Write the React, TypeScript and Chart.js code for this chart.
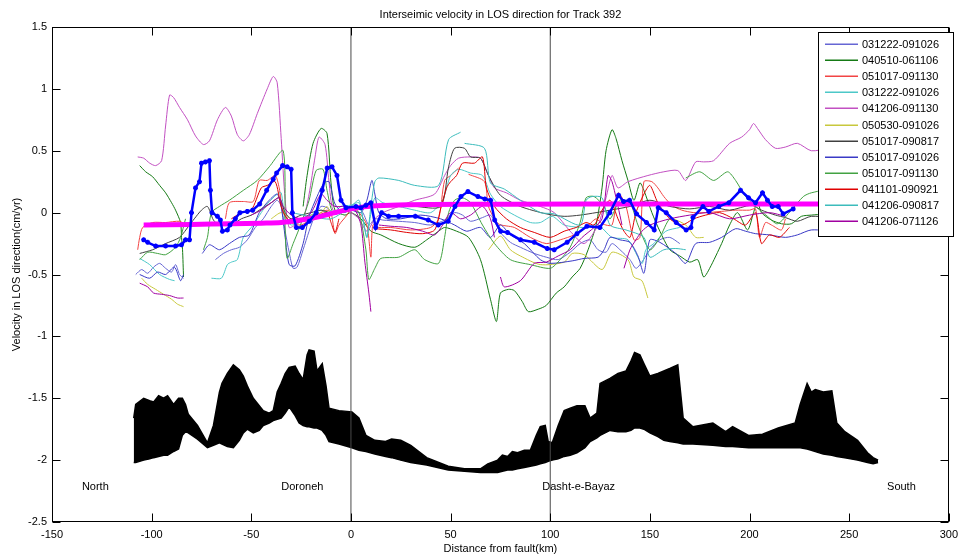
import React, { useEffect, useRef } from 'react';
import { Chart, registerables } from 'chart.js';

Chart.register(...registerables);

type P = [number, number | null];

const titleText = 'Interseimic velocity in LOS direction for Track 392';
const xTitle = 'Distance from fault(km)';
const yTitle = 'Velocity in LOS direction(cm/yr)';

const xMin = -150, xMax = 300, xStep = 50;
const yMin = -2.5, yMax = 1.5, yStep = 0.5;

const annotationLabels = ['North', 'Doroneh', 'Dasht-e-Bayaz', 'South'];
const annotationX = [-135, -35, 96, 269];
const annotationY = [-2.22, -2.22, -2.22, -2.22];

const faultLineX = [0, 100];

const legendLabels = [
  '031222-091026', '040510-061106', '051017-091130', '031222-091026',
  '041206-091130', '050530-091026', '051017-090817', '051017-091026',
  '051017-091130', '041101-090921', '041206-090817', '041206-071126',
];
const seriesColors = [
  '#6666d4', '#157a15', '#f24444', '#4cc8c8', '#c250c2', '#c8c83c',
  '#404040', '#3a3ac6', '#42a242', '#e00000', '#3cbcbc', '#a000a0',
];

const s01: P[] = [
  [-108, -0.5], [-105, -0.46], [-102, -0.49], [-99, -0.44], [-96, -0.41], [-93, -0.45], [-90, -0.48], [-88, -0.42], [-86, -0.5], [-84, -0.53], [-84, null],
  [-68, -0.38], [-64, -0.33], [-60, -0.3], [-56, -0.28], [-52, -0.22], [-48, -0.12], [-44, -0.05], [-40, 0.05], [-37, 0.1], [-35, 0.05], [-33, -0.15], [-31, -0.32], [-29, -0.45], [-27, -0.44], [-24, -0.3], [-21, -0.15], [-18, -0.02], [-15, 0.05], [-12, 0.04], [-9, 0.0], [-5, 0.02], [0, 0.04], [3, 0.05], [6, 0.0], [9, -0.1], [12, -0.05], [16, -0.06], [24, -0.07], [32, -0.08], [40, -0.1], [47, -0.06], [52, 0.0], [56, -0.02], [60, -0.07], [66, -0.04], [70, -0.02], [75, -0.16], [80, -0.24], [85, -0.28], [92, -0.33], [98, -0.36], [104, -0.38], [110, -0.32], [115, -0.25], [120, -0.22], [124, -0.3], [128, -0.32], [131, -0.25], [135, -0.3], [140, -0.38], [143, -0.45], [146, -0.4], [150, -0.3], [155, -0.22], [160, -0.2], [165, -0.25],
];
const s02: P[] = [
  [-106, 0.38], [-103, 0.33], [-99.5, 0.29], [-96, 0.22], [-93, 0.16], [-90, 0.08], [-88, 0.02], [-85.5, -0.08], [-85, -0.2], [-84.5, -0.3], [-84, -0.52], [-84, null],
  [-24, 0.05], [-22, 0.3], [-19, 0.56], [-15, 0.68], [-12, 0.64], [-10, 0.24], [-8, 0.02], [-3, -0.02], [0, 0.0], [5, -0.05], [10, -0.15], [15, -0.18], [24, -0.25], [32, -0.28], [38, -0.22], [44, -0.15], [47, -0.12], [53, -0.15], [59, -0.2], [65, -0.38], [70, -0.7], [73, -0.88], [75, -0.65], [79, -0.62], [82, -0.63], [86, -0.72], [89, -0.8], [94, -0.78], [98, -0.75], [103, -0.65], [107, -0.6], [111, -0.52], [115, -0.45], [119, -0.3], [123, -0.1], [126, 0.2], [128, 0.5], [131, 0.67], [133, 0.6], [136, 0.42], [139, 0.26], [142, 0.1], [145, 0.24], [147, 0.18], [151, 0.0], [155, -0.15], [160, -0.3], [165, -0.35], [170, -0.4], [174, -0.38], [177, -0.52], [180, -0.45], [186, -0.25], [190, -0.1], [194, 0.0], [199, -0.14], [202, 0.0], [204, 0.09], [206, 0.0], [211, -0.06], [216, -0.09], [221, -0.09], [226, -0.03], [231, -0.02], [245, 0.0], [270, 0.05], [300, 0.1],
];
const s03: P[] = [
  [-107, -0.3], [-106, -0.2], [-104.5, -0.12], [-99.5, -0.08], [-93, -0.08], [-86, -0.07], [-83, -0.1], [-83, null],
  [-63, -0.05], [-61, 0.08], [-54, 0.09], [-49, 0.09], [-46, 0.26], [-42, 0.26], [-38, 0.3], [-36, 0.2], [-34, 0.0], [-30, -0.08], [-25, -0.1], [-20, -0.05], [-15, 0.0], [-12, 0.02], [-10, 0.0], [-8, -0.17], [-6, -0.1], [-2, -0.02], [0, 0.03], [4, 0.0], [8, -0.1], [10, -0.36], [11, -0.1], [14, -0.12], [20, -0.12], [30, -0.14], [40, -0.12], [44, -0.05], [47, 0.26], [50, 0.3], [54, 0.36], [54, null],
  [59, 0.31], [67, 0.25], [69, 0.05], [74, -0.09], [82, -0.12], [90, -0.2], [98, -0.25], [105, -0.22], [112, -0.18], [118, -0.12], [123, -0.05], [126, -0.09], [131, -0.1], [134, 0.16], [138, 0.05], [142, -0.22], [145, -0.2], [147, 0.25], [151, 0.25], [154, 0.2], [157, 0.13], [161, 0.06], [166, 0.02], [172, 0.0], [178, 0.0], [186, 0.01], [193, 0.02], [200, 0.02], [203, 0.03], [205, -0.2], [208, -0.08], [211, -0.1], [216, -0.14], [218, -0.05],
];
const s04: P[] = [
  [-106, -0.37], [-101, -0.42], [-96, -0.5], [-91, -0.54], [-88.5, -0.55], [-88.5, null],
  [-70, -0.53], [-65, -0.53], [-62, -0.42], [-60, -0.4], [-57, -0.38], [-54, -0.2], [-49, -0.1], [-45, 0.0], [-42, 0.07], [-37, 0.15], [-35, 0.16], [-33, -0.05], [-30, -0.1], [-26, -0.08], [-20, -0.02], [-15, 0.02], [-10, -0.02], [-5, 0.05], [0, 0.06], [4, 0.08], [6, -0.05], [8, -0.2], [9, -0.1], [12, 0.12], [16, 0.08], [24, 0.05], [32, 0.02], [40, 0.0], [46, 0.1], [50, 0.3], [54, 0.35], [60, 0.32], [66, 0.3], [70, 0.15], [75, 0.05], [82, -0.02], [90, -0.08], [95, -0.08], [101, -0.03], [107, -0.1], [117, -0.12], [124, -0.1], [131, -0.2], [139, -0.22], [146, -0.41], [148, -0.3], [152, -0.25], [158, -0.15], [165, -0.12],
];
const s05: P[] = [
  [-107, 0.45], [-104, 0.44], [-101, 0.4], [-98, 0.38], [-95, 0.42], [-93, 0.7], [-91, 0.95], [-89, 0.93], [-86, 0.85], [-82, 0.75], [-78, 0.62], [-74, 0.55], [-71, 0.58], [-67, 0.75], [-63, 0.85], [-60, 0.78], [-57, 0.63], [-54, 0.58], [-51, 0.63], [-47, 0.8], [-42, 1.0], [-39, 1.1], [-37, 1.05], [-35, 0.6], [-33, 0.1], [-31, -0.12], [-28, -0.1], [-24, -0.05], [-21, 0.15], [-18, 0.45], [-16, 0.61], [-13, 0.55], [-11, 0.25], [-9, 0.02], [-5, 0.02], [0, 0.0], [4, -0.05], [8, -0.15], [12, -0.05], [16, 0.0], [24, 0.05], [32, 0.1], [42, 0.15], [47, 0.3], [50, 0.38], [54, 0.44], [60, 0.45], [65, 0.44], [69, 0.3], [72, 0.2], [78, 0.16], [85, 0.1], [95, 0.05], [102, 0.0], [110, -0.15], [117, -0.25], [124, -0.1], [128, 0.12], [131, 0.3], [134, 0.2], [139, 0.25], [149, 0.3], [157, 0.33], [164, 0.34], [168, 0.26], [173, 0.41], [177, 0.41], [182, 0.42], [190, 0.56], [196, 0.61], [200, 0.67], [202, 0.72], [204, 0.68], [208, 0.59], [213, 0.52], [218, 0.53], [224, 0.56], [231, 0.5], [240, 0.52], [255, 0.55], [265, 0.58], [280, 0.5], [300, 0.5],
];
const s06: P[] = [
  [-105, -0.53], [-102, -0.58], [-98, -0.62], [-94, -0.66], [-90, -0.7], [-87, -0.74], [-84, -0.76], [-84, null],
  [-40, -0.05], [-35, 0.0], [-30, -0.05], [-25, -0.05], [-20, -0.02], [-15, 0.0], [-12, 0.05], [-10, -0.02], [-10, null],
  [69, -0.3], [75, -0.19], [80, -0.3], [85, -0.35], [95, -0.42], [107, -0.4], [111, -0.33], [117, -0.34], [126, -0.46], [131, -0.32], [139, -0.38], [142, -0.52], [146, -0.55], [149, -0.69], [149, null],
  [162, -0.05], [168, -0.1], [173, -0.2], [177, -0.2],
];
const s07: P[] = [
  [-106, -0.33], [-99.5, -0.3], [-93, -0.25], [-86, -0.2], [-81, -0.1], [-78.6, -0.05], [-75, 0.02], [-72, 0.05], [-69, -0.06], [-66, -0.1], [-60, -0.1], [-55, -0.05], [-50, -0.02], [-45, 0.03], [-40, 0.08], [-36, 0.12], [-33, 0.0], [-30, -0.05], [-25, -0.02], [-20, 0.0], [-15, 0.02], [-10, 0.0], [0, 0.03], [10, 0.04], [15, 0.05], [32, 0.05], [45, 0.05], [49, 0.37], [52, 0.52], [57, 0.52], [60, 0.45], [65, 0.44], [69, 0.3], [75, 0.14], [85, 0.05], [98, -0.01], [107, -0.03], [115, -0.02], [123, 0.0], [130, 0.02], [140, 0.05], [150, 0.1], [160, 0.05], [170, 0.03], [180, 0.05], [190, 0.02], [201, 0.06], [206, 0.02], [213, -0.02], [218, -0.04], [224, -0.07], [231, -0.03], [250, -0.05], [270, -0.08], [300, -0.05],
];
const s08: P[] = [
  [-106, -0.5], [-101, -0.53], [-97, -0.48], [-93, -0.5], [-88.6, -0.44], [-85.5, -0.55], [-84, -0.5], [-84, null],
  [-74.6, -0.33], [-71, -0.26], [-66, -0.3], [-61, -0.25], [-56, -0.2], [-51, -0.18], [-46, 0.0], [-41, 0.1], [-37, 0.15], [-35, 0.05], [-33, -0.2], [-31, -0.42], [-28, -0.43], [-24, -0.25], [-21, -0.03], [-17, 0.13], [-13.5, 0.24], [-11, 0.25], [-8, 0.07], [-4, 0.0], [0, 0.02], [5, 0.0], [8, 0.1], [10.5, 0.26], [12, 0.15], [14, 0.0], [18, -0.05], [25, -0.05], [35, -0.02], [45, -0.05], [52, -0.1], [58, -0.15], [65, -0.12], [70, -0.2], [75, -0.1], [80, -0.18], [87, -0.25], [95, -0.38], [100, -0.41], [111, -0.39], [117, -0.37], [124, -0.36], [127, -0.3], [130, -0.2], [135, -0.22], [140, -0.24], [144, -0.35], [147, -0.49], [150, -0.22], [155, -0.24], [163, -0.33], [168, -0.41], [173, -0.25], [180, -0.24], [186, -0.2], [193, -0.13], [198, -0.15], [203, -0.17], [210, -0.18], [218, -0.2], [224, -0.18], [231, -0.14], [245, -0.15], [260, -0.13], [280, -0.1], [300, -0.07],
];
const s09: P[] = [
  [-106, -0.38], [-102, -0.32], [-97, -0.33], [-93, -0.34], [-88, -0.28], [-85.5, -0.2], [-83, -0.05], [-83, null],
  [-74, -0.3], [-72, -0.2], [-70, 0.0], [-66, 0.05], [-61, 0.1], [-54, 0.18], [-47, 0.26], [-41, 0.37], [-34, 0.5], [-33, -0.14], [-32, -0.37], [-29, -0.25], [-26, -0.13], [-21, 0.1], [-17.5, 0.34], [-14, 0.35], [-12, 0.18], [-9, 0.0], [-4, 0.02], [0, 0.05], [4, 0.0], [7.5, -0.3], [9, -0.54], [12, -0.45], [15, -0.37], [24, -0.36], [32, -0.3], [37, -0.38], [44, -0.41], [47, -0.2], [49, 0.0], [52, 0.1], [56, 0.12], [60, 0.08], [66, -0.1], [72, -0.25], [80, -0.38], [90, -0.42], [100, -0.45], [105, -0.38], [110, -0.28], [115, -0.08], [118, 0.12], [122, 0.13], [127, 0.05], [130, -0.05], [135, 0.1], [140, 0.08], [144, -0.1], [150, -0.3], [155, -0.2], [160, -0.05], [164, -0.1], [164, null],
  [168, 0.28], [175, 0.33], [182, 0.26], [189, 0.33], [193, 0.26], [198, 0.13], [203, 0.05], [209, -0.03], [214, -0.09], [221, 0.02], [227, 0.13], [231, 0.16], [245, 0.2], [260, 0.15], [280, 0.18], [300, 0.15],
];
const s10: P[] = [
  [-60, -0.05], [-55, 0.0], [-50, 0.02], [-45, 0.2], [-42, 0.22], [-38, 0.25], [-35, 0.05], [-32, -0.05], [-28, -0.08], [-22, -0.06], [-16, -0.02], [-12, 0.0], [-10, -0.08], [-8, -0.16], [-6, -0.05], [-6, null],
  [12, -0.13], [20, -0.14], [28, -0.16], [36, -0.17], [42, -0.14], [45, 0.03], [48, 0.2], [50, 0.25], [53, 0.3], [56, 0.4], [62, 0.4], [66, 0.45], [68, 0.2], [72, 0.05], [78, -0.05], [85, -0.12], [92, -0.16], [100, -0.2], [107, -0.15], [113, -0.12], [118, -0.08], [122, -0.1], [126, 0.02], [130, 0.1], [134, -0.05], [137, -0.15], [140, -0.2], [143, 0.0], [147, 0.15], [150, 0.22], [154, 0.08], [160, -0.05], [166, -0.1], [172, -0.05], [178, -0.02], [185, 0.0], [192, -0.05], [198, -0.1], [203, 0.0], [206, -0.25], [210, -0.18], [215, -0.2], [220, -0.12],
];
const s11: P[] = [
  [-30, 0.0], [-20, -0.03], [-10, -0.05], [0, 0.05], [4, 0.1], [6, -0.05], [8, -0.2], [10, 0.05], [12, 0.25], [14, 0.28], [24, 0.26], [32, 0.22], [44, 0.22], [49, 0.59], [55, 0.65], [55, null],
  [57, 0.56], [67, 0.52], [70, 0.24], [77, 0.19], [85, 0.1], [95, 0.0], [102, -0.01], [115, -0.1], [118, 0.1], [121, 0.13], [126, 0.12], [130, -0.1], [138, -0.14], [147, -0.2], [150, -0.36], [157, -0.3], [163, -0.29], [168, -0.3],
];
const s12: P[] = [
  [-106, -0.57], [-102, -0.6], [-99, -0.65], [-95, -0.66], [-91, -0.67], [-87, -0.69], [-84, -0.69], [-84, null],
  [-50, -0.02], [-45, 0.02], [-40, 0.08], [-36, 0.12], [-34, 0.05], [-30, -0.02], [-25, -0.05], [-20, 0.0], [-15, 0.15], [-12, 0.1], [-8, 0.05], [-3, 0.05], [2, 0.02], [5, -0.1], [7, -0.4], [9, -0.65], [10, -0.8], [10, null],
  [14, -0.1], [20, -0.11], [28, -0.12], [36, -0.15], [42, -0.18], [46, -0.1], [50, 0.0], [55, -0.05], [60, -0.02], [66, 0.05], [70, -0.05], [72, -0.2], [72, null],
  [75, -0.52], [77, -0.6], [85, -0.55], [92, -0.41], [98, -0.4], [104, -0.35], [110, -0.3], [116, -0.2], [122, -0.12], [126, -0.05], [129, 0.3], [131, 0.25], [134, 0.05], [136, -0.1], [136, null],
  [137, -0.45], [140, -0.3], [143, -0.22], [146, -0.15], [150, -0.1], [160, -0.05], [170, -0.02], [180, 0.0], [190, -0.05], [200, -0.02], [210, 0.0], [218, -0.03],
];
const seriesData = [s01, s02, s03, s04, s05, s06, s07, s08, s09, s10, s11, s12];

const meanProfile: P[] = [
  [-104, -0.22], [-102, -0.24], [-98, -0.27], [-93, -0.27], [-88, -0.27], [-85, -0.26], [-83, -0.22], [-81, -0.22], [-80, 0.0], [-78, 0.2], [-76, 0.25], [-75, 0.4], [-73, 0.41], [-71, 0.42], [-70.5, 0.18], [-69.7, 0.0], [-67, -0.03], [-65.5, -0.06], [-64.5, -0.15], [-62, -0.14], [-60.7, -0.1], [-58, -0.05], [-55.7, 0.0], [-52, 0.01], [-49.3, 0.02], [-45.8, 0.07], [-42.3, 0.18], [-39, 0.27], [-37.3, 0.32], [-34.3, 0.38], [-32, 0.37], [-30, 0.35], [-29.4, 0.0], [-27.4, -0.12], [-24.4, -0.12], [-20.9, -0.07], [-17.4, 0.0], [-14.4, 0.18], [-11.9, 0.36], [-9.5, 0.37], [-7, 0.3], [-5, 0.1], [-2.5, 0.04], [2.5, 0.05], [5, 0.04], [7.5, 0.06], [10, 0.08], [12.4, -0.12], [15.4, 0.0], [18.9, -0.03], [23.9, -0.03], [32.3, -0.03], [38.8, -0.06], [43.8, -0.1], [48.8, -0.07], [52.2, 0.05], [55.2, 0.13], [58.7, 0.17], [63.7, 0.13], [67.2, 0.11], [70.1, 0.1], [72.1, -0.06], [75.1, -0.15], [78.6, -0.16], [85.1, -0.22], [92, -0.24], [98.5, -0.29], [102, -0.3], [108.5, -0.24], [113.4, -0.17], [118.4, -0.11], [124.9, -0.12], [129.9, 0.0], [134.3, 0.14], [136.8, 0.09], [139.8, 0.1], [143.3, -0.01], [148.3, -0.08], [152.2, -0.14], [154.2, 0.04], [158.2, 0.0], [163.2, -0.08], [168.2, -0.14], [170.6, -0.12], [171.6, -0.04], [176.6, 0.05], [179.6, 0.01], [184.6, 0.05], [189.6, 0.08], [195.5, 0.18], [199.5, 0.12], [203, 0.08], [206.5, 0.16], [209, 0.1], [211.4, 0.05], [214.4, 0.05], [216.9, -0.01], [221.9, 0.03],
];

const modelCurve: P[] = [
  [-104, -0.1], [-80, -0.095], [-60, -0.09], [-45, -0.085], [-35, -0.08], [-25, -0.06], [-15, -0.03], [-8, 0.0], [0, 0.03], [8, 0.05], [20, 0.06], [40, 0.065], [80, 0.068], [150, 0.07], [230, 0.07], [300, 0.07],
];

const topoX = [
  -109, -108, -104, -101, -99, -96.5, -94, -92, -89, -86.5, -84.6, -83, -81.6, -77, -72, -69, -66, -64.7, -62, -59, -56, -54, -52, -49, -46, -44, -41, -39, -37, -35, -33, -31, -28, -26, -24, -22, -21, -18.5, -17, -14.4, -12.5, -11, -6, 0.5, 4, 7.5, 12, 17.4, 20.4, 25, 30, 38, 48.8, 57, 65, 68.7, 73.6, 76, 78.6, 81, 83.6, 87, 90, 93, 95, 97.5, 99, 101, 104, 107, 110, 113.4, 117.4, 120, 123.4, 125, 130, 134, 138, 140.5, 142.3, 145, 147, 150, 154, 157, 160, 164, 166.7, 171.6, 181.6, 188, 191.5, 199.5, 206.5, 214.4, 222.9, 225.4, 228.9, 231, 233, 237, 241.3, 243.8, 247.8, 254.2, 259.2, 262, 264.5,
];
const topoUpper = [
  -1.66, -1.55, -1.5, -1.52, -1.53, -1.48, -1.5, -1.48, -1.55, -1.5, -1.5, -1.55, -1.63, -1.72, -1.86, -1.72, -1.45, -1.38, -1.3, -1.23, -1.27, -1.32, -1.4, -1.5, -1.56, -1.6, -1.62, -1.6, -1.45, -1.38, -1.3, -1.25, -1.24, -1.3, -1.35, -1.15, -1.11, -1.12, -1.28, -1.22, -1.4, -1.58, -1.6, -1.61, -1.66, -1.8, -1.84, -1.85, -1.83, -1.84, -1.88, -1.98, -2.05, -2.07, -2.07, -2.03, -2.0, -1.96, -1.97, -1.93, -1.94, -1.92, -1.92, -1.8, -1.73, -1.72, -1.85, -1.86, -1.72, -1.6, -1.58, -1.56, -1.56, -1.66, -1.62, -1.38, -1.34, -1.3, -1.28, -1.2, -1.13, -1.15, -1.22, -1.32, -1.3, -1.28, -1.26, -1.23, -1.66, -1.73, -1.7, -1.77, -1.73, -1.8, -1.79, -1.74, -1.7, -1.55, -1.38, -1.45, -1.43, -1.45, -1.44, -1.7, -1.77, -1.84, -1.94, -1.98, -2.0,
];
const topoLower = [
  -2.02, -2.02, -2.0, -1.99, -1.98, -1.97, -1.96, -1.96, -1.93, -1.91, -1.8, -1.77, -1.78, -1.83, -1.9, -1.88, -1.86, -1.87, -1.89, -1.9, -1.84, -1.78, -1.75, -1.78, -1.76, -1.72, -1.7, -1.68, -1.67, -1.66, -1.62, -1.57, -1.64, -1.7, -1.72, -1.73, -1.73, -1.74, -1.74, -1.76, -1.8, -1.85, -1.87, -1.9, -1.92, -1.93, -1.95, -1.97, -1.98, -2.0, -2.02, -2.04, -2.08, -2.09, -2.1, -2.1, -2.1, -2.09, -2.08, -2.08, -2.07, -2.06, -2.05, -2.04, -2.03, -2.02, -2.01, -2.0, -1.99, -1.97, -1.96, -1.94, -1.9, -1.85, -1.82, -1.8, -1.76, -1.77, -1.77, -1.76, -1.74, -1.74, -1.75, -1.78, -1.81, -1.84, -1.85, -1.86, -1.87, -1.87, -1.88, -1.89, -1.89, -1.9, -1.9, -1.9, -1.9, -1.9, -1.91, -1.92, -1.93, -1.95, -1.96, -1.97, -1.98, -2.0, -2.02, -2.03, -2.02,
];

const FONT = '"Liberation Sans", Arial, sans-serif';

const toXY = (pts: P[]) => pts.map(([x, y]) => ({ x, y }));

const matlabPlugin = {
  id: 'matlabDecor',
  afterDraw(chart: any) {
    const { ctx, chartArea: a, scales } = chart;
    const xs = scales.x;
    const ys = scales.y;
    ctx.save();
    ctx.strokeStyle = '#000';
    ctx.lineWidth = 1;
    const L = Math.round(a.left) + 0.5, R = Math.round(a.right) - 0.5;
    const T = Math.round(a.top) + 0.5, B = Math.round(a.bottom) - 0.5;
    ctx.strokeRect(L, T, R - L, B - T);
    const tl = 8;
    ctx.beginPath();
    xs.ticks.forEach((t: any) => {
      const px = Math.round(xs.getPixelForValue(t.value)) + 0.5;
      ctx.moveTo(px, B); ctx.lineTo(px, B - tl);
      ctx.moveTo(px, T); ctx.lineTo(px, T + tl);
    });
    ys.ticks.forEach((t: any) => {
      const py = Math.round(ys.getPixelForValue(t.value)) + 0.5;
      ctx.moveTo(L, py); ctx.lineTo(L + tl, py);
      ctx.moveTo(R, py); ctx.lineTo(R - tl, py);
    });
    ctx.stroke();

    ctx.fillStyle = '#000';
    ctx.font = `11px ${FONT}`;
    ctx.textBaseline = 'middle';
    ctx.textAlign = 'center';
    ctx.fillText(titleText, (a.left + a.right) / 2, 15);
    ctx.fillText(xTitle, (a.left + a.right) / 2, 549);
    ctx.save();
    ctx.translate(17, (a.top + a.bottom) / 2);
    ctx.rotate(-Math.PI / 2);
    ctx.fillText(yTitle, 0, 0);
    ctx.restore();

    ctx.textAlign = 'left';
    annotationLabels.forEach((lab, i) => {
      ctx.fillText(lab, xs.getPixelForValue(annotationX[i]), ys.getPixelForValue(annotationY[i]));
    });

    // legend box
    const lx = 818.5, ly = 32.5, lw = 135, lh = 204;
    ctx.fillStyle = '#fff';
    ctx.fillRect(lx, ly, lw, lh);
    ctx.strokeStyle = '#000';
    ctx.lineWidth = 1;
    ctx.strokeRect(lx, ly, lw, lh);
    for (let i = 0; i < legendLabels.length; i++) {
      const y = Math.round(44 + i * 16.1);
      ctx.fillStyle = seriesColors[i];
      ctx.fillRect(825, y - 0.5, 33, 1.5);
      ctx.fillStyle = '#000';
      ctx.fillText(legendLabels[i], 862, y + 0.5);
    }
    ctx.restore();
  },
};

export default function App() {
  const ref = useRef<HTMLCanvasElement>(null);
  useEffect(() => {
    document.body.style.margin = '0';
    const datasets: any[] = [];
    datasets.push({
      label: 'topoUpper',
      data: topoX.map((x, i) => ({ x, y: topoUpper[i] })),
      borderColor: '#000', borderWidth: 1.5, backgroundColor: '#000',
      fill: '+1', pointRadius: 0, tension: 0,
    });
    datasets.push({
      label: 'topoLower',
      data: topoX.map((x, i) => ({ x, y: topoLower[i] })),
      borderColor: '#000', borderWidth: 1.5, fill: false, pointRadius: 0, tension: 0,
    });
    faultLineX.forEach((fx) => {
      datasets.push({
        label: 'fault',
        data: [{ x: fx, y: yMin }, { x: fx, y: yMax }],
        borderColor: '#4a4a4a', borderWidth: 1, pointRadius: 0, fill: false,
      });
    });
    seriesData.forEach((s, i) => {
      datasets.push({
        label: legendLabels[i],
        data: toXY(s),
        borderColor: seriesColors[i], borderWidth: 1, pointRadius: 0,
        fill: false, tension: 0.25, spanGaps: false,
      });
    });
    datasets.push({
      label: 'model',
      data: toXY(modelCurve),
      borderColor: '#ff00ff', borderWidth: 5, pointRadius: 0, fill: false, tension: 0.3,
    });
    datasets.push({
      label: 'mean',
      data: toXY(meanProfile),
      borderColor: '#0000ff', borderWidth: 2.5, fill: false, tension: 0,
      pointStyle: 'star', pointRadius: 2.5, pointBorderWidth: 1.5,
      pointBorderColor: '#0000ff', pointBackgroundColor: '#0000ff',
    });
    const n = datasets.length;
    datasets.forEach((d, i) => { d.order = n - i; });

    const chart = new Chart(ref.current as HTMLCanvasElement, {
      type: 'line',
      data: { datasets },
      options: {
        animation: false,
        responsive: false,
        devicePixelRatio: 1,
        layout: { padding: { top: 27, right: 9, left: 0, bottom: 0 } },
        plugins: { legend: { display: false }, tooltip: { enabled: false }, title: { display: false } },
        scales: {
          x: {
            type: 'linear', min: xMin, max: xMax,
            grid: { display: false, drawTicks: false },
            border: { display: false },
            ticks: {
              stepSize: xStep, autoSkip: false, maxRotation: 0, padding: 6, color: '#000',
              font: { family: FONT, size: 11 },
              callback: (v: any) => String(Math.round(Number(v) * 100) / 100),
            },
            afterFit: (s: any) => { s.height = 35; },
          },
          y: {
            type: 'linear', min: yMin, max: yMax,
            grid: { display: false, drawTicks: false },
            border: { display: false },
            ticks: {
              stepSize: yStep, autoSkip: false, padding: 5, color: '#000',
              font: { family: FONT, size: 11 },
              callback: (v: any) => String(Math.round(Number(v) * 100) / 100),
            },
            afterFit: (s: any) => { s.width = 52; },
          },
        },
      } as any,
      plugins: [matlabPlugin],
    });
    return () => chart.destroy();
  }, []);
  return <canvas ref={ref} width={964} height={557} style={{ display: 'block' }} />;
}
